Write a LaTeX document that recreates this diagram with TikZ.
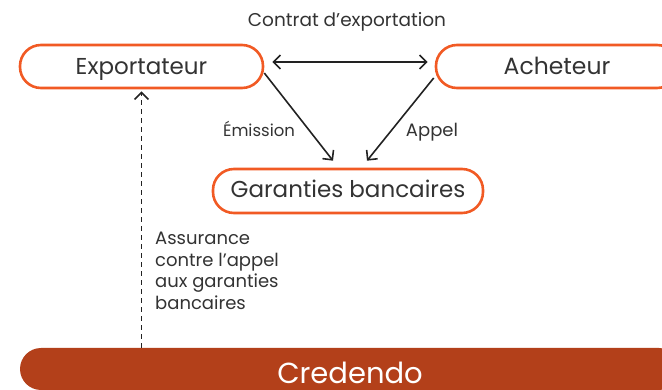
\documentclass[tikz,border=0pt]{standalone}
\usepackage{fontspec}
\setmainfont{Poppins}
\usetikzlibrary{arrows.meta}
\definecolor{ora}{HTML}{F15A24}
\definecolor{bar}{HTML}{B3401A}
\definecolor{txt}{HTML}{333333}
\definecolor{arr}{HTML}{222222}
\tikzset{mytip/.tip={Straight Barb[length=7pt,width=14pt,line width=1.6pt]}}
\begin{document}
\begin{tikzpicture}[x=1pt,y=-1pt,
  pill/.style={draw=ora,line width=2.6pt,rounded corners=21pt,fill=white,text=txt,inner sep=0pt,text depth=0pt},
  lbl/.style={text=txt,inner sep=0pt,anchor=base},
  conn/.style={draw=arr,line width=1.6pt,-{mytip}},
  both/.style={draw=arr,line width=1.6pt,{mytip}-{mytip}}]
\useasboundingbox (0,0) rectangle (662,390);
\clip (0,0) rectangle (662,390);
\node[pill,minimum width=243pt,minimum height=43pt,text height=17pt,font=\fontsize{23}{26}\selectfont] (exp) at (141.5,66.5) {Exportateur};
\node[pill,minimum width=242pt,minimum height=43pt,text height=17pt,font=\fontsize{23.5}{26}\selectfont] (ach) at (557,66.5) {Acheteur};
\node[pill,minimum width=270pt,minimum height=44pt,text height=14pt,font=\fontsize{23}{26}\selectfont] (gar) at (348,191) {Garanties bancaires};
\node[fill=bar,rounded corners=21pt,minimum width=660pt,minimum height=42pt,inner sep=0pt,text depth=0pt,text height=28pt,text=white,font=\fontsize{29}{32}\selectfont] (cred) at (350,369) {Credendo};
\node[lbl,font=\fontsize{18.5}{21}\selectfont] (contrat) at (347,26.5) {Contrat d’exportation};
\node[lbl,font=\fontsize{16.5}{20}\selectfont] (emi) at (259,137) {Émission};
\node[lbl,font=\fontsize{18}{20}\selectfont] (app) at (432,137) {Appel};
\node[text=txt,inner sep=0pt,anchor=north west,align=left,font=\fontsize{18}{21.5}\selectfont] (ass) at (155,232) {Assurance\\contre l’appel\\aux garanties\\bancaires};
\draw[both] ([xshift=8pt,yshift=4.5pt]exp.east) -- ([xshift=-7pt,yshift=4.5pt]ach.west);
\draw[conn] ([yshift=-6.5pt]exp.east) -- ([xshift=-15pt,yshift=7pt]gar.north);
\draw[conn] ([xshift=-1pt,yshift=-11.5pt]ach.west) -- ([xshift=19pt,yshift=7pt]gar.north);
\draw[conn,line width=1.8pt,dash pattern=on 5pt off 4pt] (exp.south |- cred.north) -- ([yshift=-2pt]exp.south);
\end{tikzpicture}
\end{document}
